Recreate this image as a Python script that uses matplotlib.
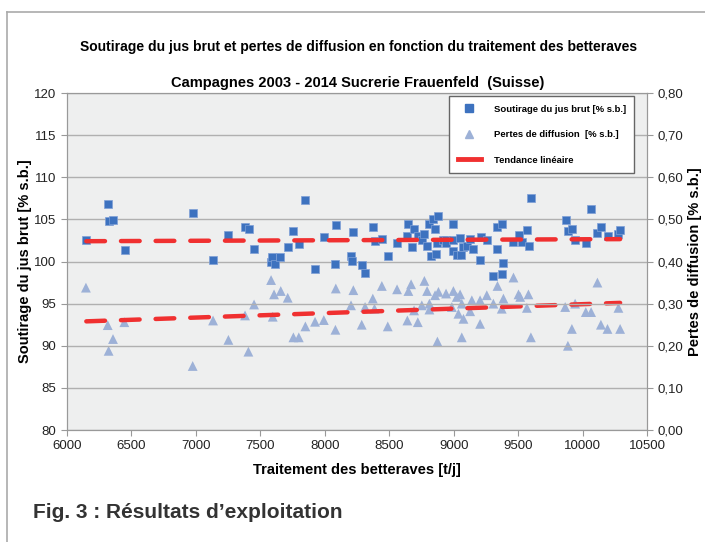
import numpy as np
import matplotlib
matplotlib.use("Agg")
import matplotlib.pyplot as plt
from matplotlib.lines import Line2D

plt.rcParams['font.family'] = ['Liberation Sans', 'DejaVu Sans']

# Soutirage du jus brut [% s.b.] vs traitement [t/j]
jus_x = [6150, 6318, 6323, 6360, 6448, 6975, 7133, 7252, 7381, 7412, 7453, 7580, 7593,
         7611, 7655, 7715, 7756, 7798, 7849, 7924, 7992, 8082, 8085, 8203, 8209, 8221,
         8286, 8314, 8372, 8390, 8442, 8488, 8560, 8636, 8648, 8674, 8695, 8725, 8752,
         8772, 8795, 8811, 8822, 8837, 8855, 8863, 8868, 8881, 8920, 8940, 8940, 8992,
         8997, 8997, 9023, 9049, 9054, 9075, 9101, 9127, 9152, 9204, 9210, 9256, 9307,
         9334, 9339, 9372, 9375, 9385, 9462, 9502, 9528, 9571, 9584, 9598, 9869, 9885,
         9916, 9941, 10024, 10068, 10114, 10141, 10195, 10277, 10290]
jus_y = [102.6, 106.8, 104.8, 104.9, 101.4, 105.7, 100.2, 103.2, 104.1, 103.8, 101.45, 100.0, 100.5,
         99.7, 100.5, 101.7, 103.6, 102.1, 107.3, 99.15, 102.9, 99.7, 104.3, 100.7, 100.1, 103.5,
         99.6, 98.6, 104.1, 102.4, 102.7, 100.6, 102.2, 103.0, 104.4, 101.7, 103.8, 103.0, 102.5,
         103.3, 101.8, 104.5, 100.6, 105.0, 103.9, 100.9, 102.2, 105.4, 102.5, 102.6, 102.2, 101.3,
         104.5, 102.6, 100.8, 102.75, 100.8, 101.7, 101.8, 102.7, 101.45, 100.2, 102.95, 102.6, 98.3,
         101.5, 104.1, 104.5, 98.5, 99.8, 102.35, 103.1, 102.35, 103.7, 101.8, 107.5, 104.9, 103.6,
         103.9, 102.6, 102.2, 106.2, 103.4, 104.1, 103.0, 103.3, 103.7]

# Pertes de diffusion [% s.b.] vs traitement [t/j]
pertes_x = [6147, 6316, 6323, 6357, 6445, 6975, 7133, 7252, 7381, 7407, 7451, 7583, 7596,
            7606, 7658, 7712, 7756, 7798, 7849, 7924, 7992, 8082, 8085, 8203, 8221, 8286,
            8312, 8372, 8385, 8442, 8488, 8560, 8640, 8648, 8669, 8692, 8721, 8752, 8772,
            8793, 8811, 8811, 8855, 8873, 8881, 8940, 8985, 8997, 9023, 9036, 9049, 9062,
            9062, 9075, 9127, 9140, 9204, 9204, 9256, 9307, 9339, 9372, 9385, 9463, 9502,
            9515, 9567, 9579, 9598, 9864, 9885, 9916, 9941, 10024, 10065, 10114, 10141,
            10192, 10277, 10290]
pertes_y = [0.338, 0.249, 0.188, 0.216, 0.256, 0.152, 0.260, 0.214, 0.272, 0.186, 0.298, 0.356, 0.269,
            0.322, 0.330, 0.314, 0.220, 0.220, 0.246, 0.257, 0.261, 0.238, 0.336, 0.296, 0.332, 0.250,
            0.292, 0.312, 0.288, 0.342, 0.246, 0.334, 0.260, 0.330, 0.346, 0.284, 0.256, 0.296, 0.354,
            0.330, 0.300, 0.286, 0.320, 0.210, 0.328, 0.324, 0.292, 0.330, 0.316, 0.276, 0.322, 0.300,
            0.220, 0.264, 0.282, 0.308, 0.308, 0.252, 0.320, 0.300, 0.342, 0.288, 0.312, 0.362, 0.322,
            0.316, 0.290, 0.322, 0.220, 0.292, 0.200, 0.240, 0.300, 0.280, 0.280, 0.350, 0.250,
            0.240, 0.290, 0.240]

x_ticks = [6000, 6500, 7000, 7500, 8000, 8500, 9000, 9500, 10000, 10500]
left_ticks = [80, 85, 90, 95, 100, 105, 110, 115, 120]
right_ticks = [0.0, 0.1, 0.2, 0.3, 0.4, 0.5, 0.6, 0.7, 0.8]

sq_color = '#3D72BF'
tri_color = '#9DB1D7'
trend_color = '#F03030'

fig = plt.figure(figsize=(7.05, 5.42), dpi=100)
ax = fig.add_axes([0.095, 0.2066, 0.823, 0.6218])
ax2 = ax.twinx()
ax.set_zorder(ax2.get_zorder() + 1)
ax.patch.set_visible(False)
ax2.patch.set_visible(True)
ax2.patch.set_facecolor('#EEEFEF')

ax.set_xlim(6000, 10500)
ax.set_ylim(80, 120)
ax2.set_ylim(0, 0.8)
ax.set_xticks(x_ticks)
ax.set_yticks(left_ticks)
ax2.set_yticks(right_ticks)
ax2.set_yticklabels([f"{v:.2f}".replace('.', ',') for v in right_ticks])
for a in (ax, ax2):
    a.tick_params(labelsize=9.5, colors='#222222', length=4, color='#999999')
    for s in a.spines.values():
        s.set_color('#999999')
ax.tick_params(axis='x', direction='out', pad=3)
ax.yaxis.grid(True, color='#B0B0B0', linewidth=1.0)
ax.set_axisbelow(True)

# trend lines (linear fits)
jx = np.array(jus_x)
px = np.array(pertes_x)
c1 = np.polyfit(jx, jus_y, 1)
c2 = np.polyfit(px, pertes_y, 1)
xs = np.array([jx.min(), jx.max()])
ax2.plot(xs, np.polyval(c2, xs), color=trend_color, lw=3.2, ls=(0, (4.2, 3.6)),
         dash_capstyle='round', zorder=2)
ax2.scatter(pertes_x, pertes_y, marker='^', s=50, color=tri_color, edgecolors='none', zorder=1)
ax.scatter(jus_x, jus_y, marker='s', s=40, color=sq_color, edgecolors='#7FA0D6',
           linewidths=0.5, zorder=3)
ax.plot(xs, np.polyval(c1, xs), color=trend_color, lw=3.2, ls=(0, (4.2, 3.6)),
        dash_capstyle='round', zorder=4)

ax.set_ylabel("Soutirage du jus brut [% s.b.]", fontsize=10.5, fontweight='bold', labelpad=2)
ax2.set_ylabel("Pertes de diffusion [% s.b.]", fontsize=10.5, fontweight='bold',
               rotation=90, labelpad=3)
ax.set_xlabel("Traitement des betteraves [t/j]", fontsize=10.5, fontweight='bold', labelpad=8)

fig.text(0.508, 0.913, "Soutirage du jus brut et pertes de diffusion en fonction du traitement des betteraves",
         ha='center', va='center', fontsize=10, fontweight='bold')
fig.text(0.508, 0.847, "Campagnes 2003 - 2014 Sucrerie Frauenfeld  (Suisse)",
         ha='center', va='center', fontsize=10.5, fontweight='bold')
fig.text(0.047, 0.055, "Fig. 3 : Résultats d\u2019exploitation", ha='left', va='center',
         fontsize=15, fontweight='bold', color='#333333')

# legend
handles = [
    Line2D([], [], ls='none', marker='s', ms=5.5, color=sq_color),
    Line2D([], [], ls='none', marker='^', ms=5.5, color=tri_color),
    Line2D([], [], color=trend_color, lw=3.5),
]
labels = ["Soutirage du jus brut [% s.b.]", "Pertes de diffusion  [% s.b.]", "Tendance linéaire"]
leg = ax.legend(handles, labels, loc='upper left', bbox_to_anchor=(0.659, 0.991),
                borderaxespad=0, frameon=True, fancybox=False, labelspacing=1.75,
                handlelength=2.4, handletextpad=1.4, borderpad=0.9,
                prop={'weight': 'bold', 'size': 6.8})
leg.get_frame().set_edgecolor('#666666')
leg.get_frame().set_facecolor('white')
leg.get_frame().set_alpha(1)

# outer frame
fig.add_artist(Line2D([0.01, 1.0], [0.978, 0.978], color='#AAAAAA', lw=1.2, transform=fig.transFigure))
fig.add_artist(Line2D([0.01, 0.01], [0.0, 0.978], color='#AAAAAA', lw=1.2, transform=fig.transFigure))

fig.savefig("out.png", dpi=100)
